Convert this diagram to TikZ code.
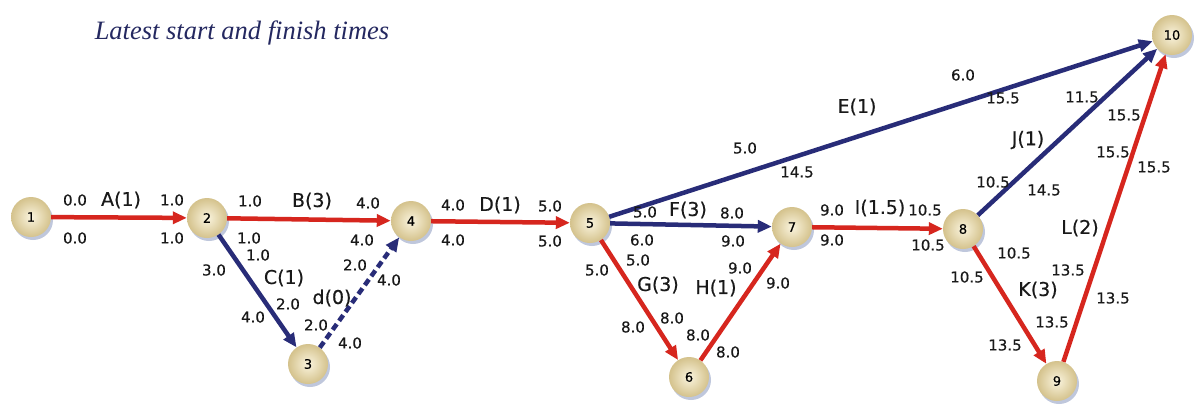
\documentclass[tikz,border=0pt]{standalone}
\usepackage{fontspec}
\setmainfont{DejaVu Sans}
\newfontfamily\lblfont[FakeBold=0.4]{DejaVu Sans}
\newfontfamily\titlefont{Liberation Serif}
\usetikzlibrary{arrows.meta,shadows}
\definecolor{cpred}{RGB}{214,38,30}
\definecolor{navy}{RGB}{40,44,120}
\definecolor{titleblue}{RGB}{36,40,96}
\definecolor{txt}{RGB}{25,25,25}
\definecolor{nodein}{RGB}{250,244,222}
\definecolor{nodeout}{RGB}{212,194,140}
\definecolor{shadowc}{RGB}{175,185,212}
\tikzset{
 evt/.style={circle, minimum size=40pt, inner sep=0pt, inner color=nodein, outer color=nodeout,
   drop shadow={shadow xshift=2pt, shadow yshift=-3pt, fill=shadowc, opacity=0.8},
   font=\lblfont\fontsize{13}{14}\selectfont, text=black},
 num/.style={font=\lblfont\fontsize{15}{16}\selectfont, text=txt, inner sep=0pt},
 act/.style={font=\lblfont\fontsize{19}{20}\selectfont, text=txt, inner sep=0pt},
 crit/.style={draw=cpred, line width=4.5pt, -{Triangle[length=14pt,width=12pt]}},
 nc/.style={draw=navy, line width=4.5pt, -{Triangle[length=14pt,width=12pt]}},
 dummy/.style={draw=navy, line width=4.5pt, dash pattern=on 7pt off 4pt, -{Triangle[length=14pt,width=12pt]}},
}
\begin{document}
\begin{tikzpicture}[x=1pt,y=-1pt]
\useasboundingbox[fill=white] (0,0) rectangle (1203,405);
\node[font=\titlefont\itshape\fontsize{26.5}{28}\selectfont, text=titleblue] (title) at (242,33) {Latest start and finish times};
% events
\node[evt] (n1) at (31,217) {1};
\node[evt] (n2) at (207,218) {2};
\node[evt] (n3) at (308,364) {3};
\node[evt] (n4) at (411,221) {4};
\node[evt] (n5) at (590,223) {5};
\node[evt] (n6) at (689,377) {6};
\node[evt] (n7) at (792,227) {7};
\node[evt] (n8) at (963,229) {8};
\node[evt] (n9) at (1057,381) {9};
\node[evt] (n10) at (1172,35) {10};
% activities
\draw[crit] (n1) -- (n2);
\draw[crit] (n2) -- (n4);
\draw[nc] (n2) -- (n3);
\draw[dummy] (n3) -- (n4);
\draw[crit] (n4) -- (n5);
\draw[nc] (n5) -- (n10);
\draw[nc] (n5) -- (n7);
\draw[crit] (n5) -- (n6);
\draw[crit] (n6) -- (n7);
\draw[crit] (n7) -- (n8);
\draw[nc] (n8) -- (n10);
\draw[crit] (n8) -- (n9);
\draw[crit] (n9) -- (n10);
% A
\node[num] (a1) at (75,200) {0.0};
\node[act] (a2) at (121,200) {A(1)};
\node[num] (a3) at (172,200) {1.0};
\node[num] (a4) at (75,238) {0.0};
\node[num] (a5) at (172,238) {1.0};
% B
\node[num] (b1) at (250,201) {1.0};
\node[act] (b2) at (312,201) {B(3)};
\node[num] (b3) at (368,203) {4.0};
\node[num] (b4) at (249,238) {1.0};
\node[num] (b5) at (362,240) {4.0};
% C
\node[num] (c1) at (258,255) {1.0};
\node[num] (c2) at (214,270) {3.0};
\node[act] (c3) at (284,278) {C(1)};
\node[num] (c4) at (288,304) {2.0};
\node[num] (c5) at (253,317) {4.0};
% d
\node[act] (d1) at (332,298) {d(0)};
\node[num] (d2) at (355,265) {2.0};
\node[num] (d3) at (389,280) {4.0};
\node[num] (d4) at (316,325) {2.0};
\node[num] (d5) at (350,343) {4.0};
% D
\node[num] (e1) at (453,205) {4.0};
\node[act] (e2) at (500,205) {D(1)};
\node[num] (e3) at (550,206) {5.0};
\node[num] (e4) at (453,240) {4.0};
\node[num] (e5) at (550,241) {5.0};
% F
\node[num] (f1) at (645,212) {5.0};
\node[act] (f2) at (688,210) {F(3)};
\node[num] (f3) at (732,213) {8.0};
\node[num] (f4) at (642,240) {6.0};
\node[num] (f5) at (733,241) {9.0};
% G
\node[num] (g1) at (638,260) {5.0};
\node[num] (g2) at (597,270) {5.0};
\node[act] (g3) at (658,285) {G(3)};
\node[num] (g4) at (633,327) {8.0};
\node[num] (g5) at (672,318) {8.0};
% H
\node[act] (h1) at (716,288) {H(1)};
\node[num] (h2) at (740,268) {9.0};
\node[num] (h3) at (778,283) {9.0};
\node[num] (h4) at (698,335) {8.0};
\node[num] (h5) at (728,352) {8.0};
% E
\node[num] (k1) at (745,148) {5.0};
\node[num] (k2) at (797,172) {14.5};
\node[act] (k3) at (857,107) {E(1)};
\node[num] (k4) at (963,75) {6.0};
\node[num] (k5) at (1003,98) {15.5};
% I
\node[num] (i1) at (832,210) {9.0};
\node[act] (i2) at (880,208) {I(1.5)};
\node[num] (i3) at (925,210) {10.5};
\node[num] (i4) at (832,240) {9.0};
\node[num] (i5) at (928,245) {10.5};
% J
\node[num] (j1) at (993,182) {10.5};
\node[num] (j2) at (1044,190) {14.5};
\node[act] (j3) at (1028,140) {J(1)};
\node[num] (j4) at (1082,97) {11.5};
\node[num] (j5) at (1124,115) {15.5};
% K
\node[num] (m1) at (1014,253) {10.5};
\node[num] (m2) at (967,277) {10.5};
\node[act] (m3) at (1038,290) {K(3)};
\node[num] (m4) at (1052,322) {13.5};
\node[num] (m5) at (1005,345) {13.5};
% L
\node[act] (l1) at (1080,228) {L(2)};
\node[num] (l2) at (1068,270) {13.5};
\node[num] (l3) at (1113,298) {13.5};
\node[num] (l4) at (1113,152) {15.5};
\node[num] (l5) at (1154,167) {15.5};
\end{tikzpicture}
\end{document}
